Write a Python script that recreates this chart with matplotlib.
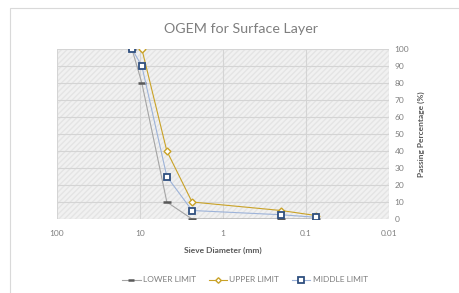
import matplotlib.pyplot as plt
from matplotlib.patches import Rectangle

sieve_mm = [12.5, 9.5, 4.75, 2.36, 0.2, 0.075]
lower_limit = [100, 80, 10, 0, 0, 0]
upper_limit = [100, 100, 40, 10, 5, 2]
middle_limit = [100, 90, 25, 5, 2.5, 1]
y_ticks = list(range(0, 101, 10))
x_ticks = [100, 10, 1, 0.1, 0.01]
x_tick_labels = ["100", "10", "1", "0.1", "0.01"]

plt.rcParams["font.family"] = ["Lato", "DejaVu Sans"]
text_grey = "#7f7f7f"

fig = plt.figure(figsize=(4.6, 2.93), dpi=100)
fig.patch.set_facecolor("white")

# chart frame, cut off at the right and bottom edges like the screenshot
fig.patches.append(Rectangle((10 / 460, -0.1), 1.2, 1 - 8 / 293 + 0.1,
                             transform=fig.transFigure, fill=False,
                             edgecolor="#d9d9d9", linewidth=0.8))

ax = fig.add_axes([57 / 460, 1 - 219 / 293, 332 / 460, 170 / 293])
ax.set_facecolor("#f1f1f1")
ax.add_patch(Rectangle((0, 0), 1, 1, transform=ax.transAxes, fill=False,
                       hatch="//////", edgecolor="#e4e4e4", linewidth=0, zorder=0))

ax.plot(sieve_mm[1:], upper_limit[1:], color="#c9a227", linewidth=0.8,
        marker="D", markersize=3.5, markerfacecolor="white",
        markeredgecolor="#c9a227", markeredgewidth=1.0, label="UPPER LIMIT", zorder=3)
ax.plot(sieve_mm, lower_limit, color="#a5a5a5", linewidth=0.8,
        marker="_", markersize=6, markeredgecolor="#595959",
        markeredgewidth=1.8, label="LOWER LIMIT", zorder=3)
ax.plot(sieve_mm, middle_limit, color="#9db3d9", linewidth=0.8,
        marker="s", markersize=5, markerfacecolor="white",
        markeredgecolor="#2f4f7f", markeredgewidth=1.3, label="MIDDLE LIMIT", zorder=4)

ax.set_xscale("log")
ax.set_xlim(100, 0.01)
ax.set_ylim(0, 100)
ax.set_xticks(x_ticks)
ax.set_xticklabels(x_tick_labels)
ax.minorticks_off()
ax.set_yticks(y_ticks)
ax.yaxis.tick_right()
ax.yaxis.set_label_position("right")
ax.tick_params(length=0, labelsize=6, colors=text_grey, pad=4)
ax.tick_params(axis="x", pad=8)
ax.grid(True, color="#d4d4d4", linewidth=0.8)
ax.set_axisbelow(True)
for spine in ax.spines.values():
    spine.set_visible(False)

ax.set_xlabel("Sieve Diameter (mm)", fontsize=6, fontweight="bold",
              color="#595959", labelpad=7)
ax.set_ylabel("Passing Percentage (%)", fontsize=6, fontweight="bold",
              color="#595959", labelpad=6)
fig.text(241 / 460, 1 - 29 / 293, "OGEM for Surface Layer", ha="center", va="center",
         fontsize=10.3, color="#7f7f7f")

handles, labels = ax.get_legend_handles_labels()
order = [1, 0, 2]
fig.legend([handles[i] for i in order], [labels[i] for i in order],
           loc="center", bbox_to_anchor=(245 / 460, 1 - 280 / 293), ncol=3,
           frameon=False, fontsize=6, labelcolor=text_grey, markerscale=0.8,
           handlelength=2.2, columnspacing=1.5, handletextpad=0.3)

fig.savefig("out.png", dpi=100)
